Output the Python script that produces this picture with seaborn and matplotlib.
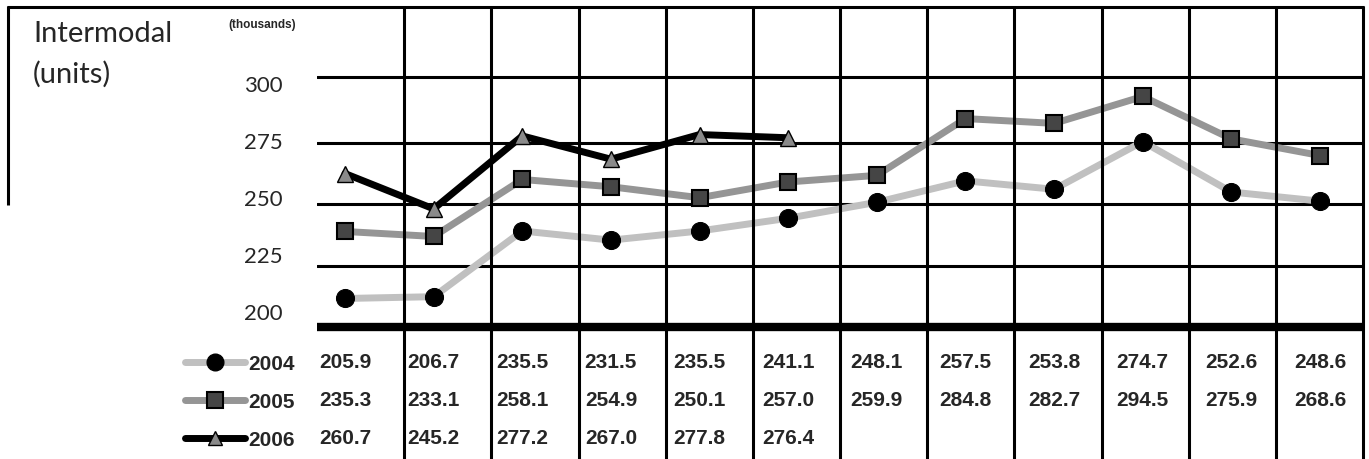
import matplotlib
matplotlib.use("Agg")
import matplotlib.pyplot as plt
import matplotlib.transforms as mtransforms
from matplotlib.lines import Line2D
import numpy as np
import pandas as pd
import seaborn as sns

# data
months = list(range(12))
v2004 = [205.9, 206.7, 235.5, 231.5, 235.5, 241.1, 248.1, 257.5, 253.8, 274.7, 252.6, 248.6]
v2005 = [235.3, 233.1, 258.1, 254.9, 250.1, 257.0, 259.9, 284.8, 282.7, 294.5, 275.9, 268.6]
v2006 = [260.7, 245.2, 277.2, 267.0, 277.8, 276.4]
years = ["2004", "2005", "2006"]
y_ticks = [200, 225, 250, 275, 300]

sns.set_style("white")
NARROW = ["Liberation Sans", "DejaVu Sans"]
REG = ["Lato", "DejaVu Sans"]
plt.rcParams["font.family"] = REG

W, H = 1369, 459
fig = plt.figure(figsize=(W / 100, H / 100), dpi=100)
ax = fig.add_axes([317 / W, 1 - 327 / H, 1046 / W, 319 / H])

styles = {
    "2004": dict(color="#c0c0c0", marker="o", markerfacecolor="black", markeredgecolor="black",
                 markersize=13, linewidth=5),
    "2005": dict(color="#959595", marker="s", markerfacecolor="#454545", markeredgecolor="black",
                 markersize=12, linewidth=5, markeredgewidth=1.5),
    "2006": dict(color="black", marker="^", markerfacecolor="#8a8a8a", markeredgecolor="black",
                 markersize=11, linewidth=5, markeredgewidth=1),
}
series = {"2004": v2004, "2005": v2005, "2006": v2006}
for yr in years:
    vals = series[yr]
    sns.lineplot(x=months[:len(vals)], y=vals, ax=ax, legend=False,
                 solid_joinstyle="round", solid_capstyle="round", zorder=3, **styles[yr])

ax.set_xlim(-0.316, 11.485)
ax.set_ylim(193.4, 333.3)
for s in ax.spines.values():
    s.set_visible(False)
ax.set_xticks([])
ax.set_yticks(y_ticks)
ax.set_yticklabels([str(t) for t in y_ticks])
ax.tick_params(axis="y", length=0, pad=25, labelsize=16)
ax.set_xlabel("")
ax.set_ylabel("")

LW = 2.2

def fline(x0, y0, x1, y1, lw=LW):
    fig.add_artist(Line2D([x0 / W, x1 / W], [1 - y0 / H, 1 - y1 / H],
                          transform=fig.transFigure, color="black", lw=lw,
                          solid_capstyle="butt"))

# horizontal grid (decorative, not aligned to the value scale)
for f in [0.191, 0.386, 0.577, 0.784]:
    ax.plot([0, 1], [f, f], transform=ax.transAxes, color="black", lw=LW, zorder=1)
ax.plot([0, 1], [0, 0], transform=ax.transAxes, color="black", lw=6, zorder=4,
        clip_on=False, solid_capstyle="butt")

# outer frame and column lines
fline(7, 7, 1364, 7)
fline(8, 6, 8, 205)
for k in range(1, 13):
    x = 317 + 1046 * k / 12
    fline(x, 6, x, H)

# table of values
tr = mtransforms.blended_transform_factory(ax.transData, fig.transFigure)
row_y = [362, 400, 438]
for yr, py in zip(years, row_y):
    for i, v in enumerate(series[yr]):
        ax.text(i, 1 - py / H, f"{v:.1f}", transform=tr, ha="center", va="center",
                fontsize=15, fontweight="bold", family=NARROW)
    fig.text(248 / W, 1 - (py + 3) / H, yr, ha="left", va="center",
             fontsize=15, fontweight="bold", family=NARROW)
    st = styles[yr]
    fig.add_artist(Line2D([185 / W, 245 / W], [1 - py / H] * 2, transform=fig.transFigure,
                          color=st["color"], lw=5, solid_capstyle="round"))
    fig.add_artist(Line2D([215 / W], [1 - py / H], transform=fig.transFigure, linestyle="none",
                          marker=st["marker"], markersize=st["markersize"] - 1,
                          markerfacecolor=st["markerfacecolor"], markeredgecolor="black",
                          markeredgewidth=st.get("markeredgewidth", 1)))

fig.text(33 / W, 1 - 42 / H, "Intermodal", ha="left", va="baseline", fontsize=21)
fig.text(33 / W, 1 - 83 / H, "(units)", ha="left", va="baseline", fontsize=21)
fig.text(228 / W, 1 - 25 / H, "(thousands)", ha="left", va="center",
         fontsize=8.5, fontweight="bold", family=NARROW)

fig.savefig("out.png", dpi=100)
